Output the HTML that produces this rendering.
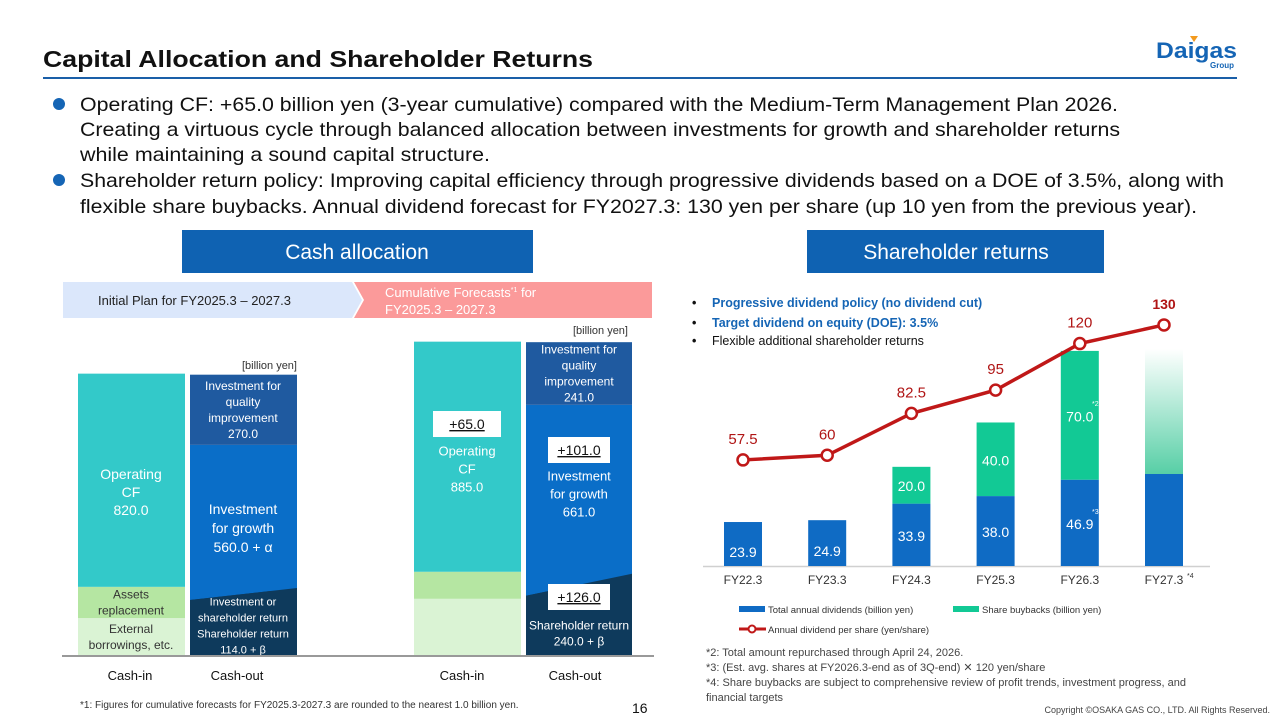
<!DOCTYPE html>
<html><head><meta charset="utf-8"><style>
html,body{margin:0;padding:0;background:#fff}
svg{display:block;font-family:"Liberation Sans",Arial,sans-serif}
</style></head><body>
<svg id="s" width="1280" height="720" viewBox="0 0 1280 720">
<defs>
<linearGradient id="fade" x1="0" y1="1" x2="0" y2="0"><stop offset="0" stop-color="#1fbf88" stop-opacity="0.75"/><stop offset="1" stop-color="#1fbf88" stop-opacity="0"/></linearGradient>
</defs>
<text x="43" y="67" font-size="23" font-weight="bold" fill="#111" textLength="550" lengthAdjust="spacingAndGlyphs">Capital Allocation and Shareholder Returns</text>
<line x1="43" y1="78" x2="1237" y2="78" stroke="#1a5fa8" stroke-width="2"/>
<g>
<polygon points="1190,36 1198,36 1194,42" fill="#f39a1e"/>
<text x="1156" y="58" font-size="22" font-weight="bold" fill="#1565b5" textLength="81" lengthAdjust="spacingAndGlyphs">Daigas</text>
<text x="1210" y="68" font-size="8" font-weight="bold" fill="#1565b5">Group</text>
</g>
<g font-size="19.5" fill="#111">
<circle cx="59" cy="104" r="6" fill="#1565b5"/>
<text x="80" y="111" textLength="1038" lengthAdjust="spacingAndGlyphs">Operating CF: +65.0 billion yen (3-year cumulative) compared with the Medium-Term Management Plan 2026.</text>
<text x="80" y="136" textLength="1040" lengthAdjust="spacingAndGlyphs">Creating a virtuous cycle through balanced allocation between investments for growth and shareholder returns</text>
<text x="80" y="161" textLength="410" lengthAdjust="spacingAndGlyphs">while maintaining a sound capital structure.</text>
<circle cx="59" cy="180" r="6" fill="#1565b5"/>
<text x="80" y="187" textLength="1144" lengthAdjust="spacingAndGlyphs">Shareholder return policy: Improving capital efficiency through progressive dividends based on a DOE of 3.5%, along with</text>
<text x="80" y="213" textLength="1117" lengthAdjust="spacingAndGlyphs">flexible share buybacks. Annual dividend forecast for FY2027.3: 130 yen per share (up 10 yen from the previous year).</text>
</g>
<rect x="182" y="230" width="351" height="43" fill="#0f62b2"/>
<text x="357" y="259" font-size="21" fill="#fff" text-anchor="middle">Cash allocation</text>
<rect x="807" y="230" width="297" height="43" fill="#0f62b2"/>
<text x="956" y="259" font-size="21" fill="#fff" text-anchor="middle">Shareholder returns</text>
<polygon points="63,282 352,282 362,300 352,318 63,318" fill="#dbe7fb"/>
<text x="98" y="305" font-size="13" fill="#222">Initial Plan for FY2025.3 – 2027.3</text>
<polygon points="354,282 652,282 652,318 354,318 364,300" fill="#fb9a9a"/>
<text x="385" y="297" font-size="13" fill="#fff">Cumulative Forecasts<tspan font-size="7" dy="-5">*1</tspan><tspan dy="5"> for</tspan></text>
<text x="385" y="314" font-size="13" fill="#fff">FY2025.3 – 2027.3</text>
<text x="297" y="369" font-size="11" fill="#333" text-anchor="end">[billion yen]</text>
<text x="628" y="334" font-size="11" fill="#333" text-anchor="end">[billion yen]</text>
<g id="left"></g>
<line x1="62" y1="656" x2="654" y2="656" stroke="#999" stroke-width="2"/>
<g font-size="13" fill="#111" text-anchor="middle">
<text x="130" y="680">Cash-in</text><text x="237" y="680">Cash-out</text>
<text x="462" y="680">Cash-in</text><text x="575" y="680">Cash-out</text>
</g>
<text x="80" y="708" font-size="10" fill="#333">*1: Figures for cumulative forecasts for FY2025.3-2027.3 are rounded to the nearest 1.0 billion yen.</text>
<text x="632" y="713" font-size="14" fill="#111">16</text>
<g id="right"></g>
<g font-size="12.5" font-weight="bold">
<text x="692" y="307" fill="#111">•</text><text x="712" y="307" fill="#1565b5">Progressive dividend policy (no dividend cut)</text>
<text x="692" y="327" fill="#111">•</text><text x="712" y="327" fill="#1565b5">Target dividend on equity (DOE): 3.5%</text>
<text x="692" y="345" fill="#111">•</text><text x="712" y="345" fill="#111" font-weight="normal">Flexible additional shareholder returns</text>
</g>
<g font-size="9.5" fill="#333">
<rect x="739" y="606" width="26" height="6" fill="#0f6bc4"/><text x="768" y="613">Total annual dividends (billion yen)</text>
<rect x="953" y="606" width="26" height="6" fill="#12c995"/><text x="982" y="613">Share buybacks (billion yen)</text>
<line x1="739" y1="629" x2="766" y2="629" stroke="#c01818" stroke-width="3"/><circle cx="752" cy="629" r="3.5" fill="#fff" stroke="#c01818" stroke-width="2"/><text x="768" y="633">Annual dividend per share (yen/share)</text>
</g>
<g font-size="11" fill="#444">
<text x="706" y="656">*2: Total amount repurchased through April 24, 2026.</text>
<text x="706" y="671">*3: (Est. avg. shares at FY2026.3-end as of 3Q-end) ✕ 120 yen/share</text>
<text x="706" y="686">*4:  Share buybacks are subject to comprehensive review of profit trends, investment progress, and</text>
<text x="706" y="701">financial targets</text>
</g>
<text x="1270" y="713" font-size="9" fill="#444" text-anchor="end">Copyright ©OSAKA GAS CO., LTD. All Rights Reserved.</text>
</svg>
<script>
const NS='http://www.w3.org/2000/svg';
// ---- Left chart data (billion yen) ----
const planIn=[820,120,146];          // operating CF, assets replacement, external borrowings
const planOut=[270,562,250];         // quality, growth, shareholder/other
const fcIn=[885,104,220];            // operating CF, assets replacement, external
const fcOut=[241,692,274];           // quality, growth, shareholder
const planOutLabels=['Investment for|quality|improvement|270.0','Investment|for growth|560.0 + α','Investment or|shareholder return|Shareholder return|114.0 + β'];
const fcOutLabels=['Investment for|quality|improvement|241.0','Investment|for growth|661.0','Shareholder return|240.0 + β'];
// ---- Right chart data ----
const years=['FY22.3','FY23.3','FY24.3','FY25.3','FY26.3','FY27.3'];
const dividends=[23.9,24.9,33.9,38.0,46.9,50];
const buybacks=[0,0,20.0,40.0,70.0,68];
const dps=[57.5,60,82.5,95,120,130];

function el(t,a,p){const e=document.createElementNS(NS,t);for(const k in a)e.setAttribute(k,a[k]);p.appendChild(e);return e;}
function txt(p,x,y,s,size,fill,weight){const t=el('text',{x:x,y:y,'font-size':size,fill:fill,'text-anchor':'middle'},p);if(weight)t.setAttribute('font-weight',weight);t.textContent=s;return t;}
function lines(p,x,yc,str,size,fill,lh){const ls=str.split('|');const y0=yc-(ls.length-1)*lh/2+size*0.35;ls.forEach((l,i)=>txt(p,x,y0+i*lh,l,size,fill));}

const L=document.getElementById('left');
const base=656, k=0.26;
const yL=v=>v*k;
function stack(x,w,vals,cols,names){let y=base;const out=[];for(let i=vals.length-1;i>=0;i--){const h=yL(vals[i]);y-=h;const r=el('rect',{x:x,y:y,width:w,height:h,fill:cols[i]},L);out[i]={y:y,h:h};}return out;}
const inCols=['#33c9c9','#b5e6a2','#daf3d4'];
const outCols=['#1f5aa0','#0a6ec8','#0e3a5c'];
// plan cash-in
let a=stack(78,107,planIn,inCols,['plan-operating-cf','plan-assets-replacement','plan-external-borrowings']);
lines(L,131,a[0].y+a[0].h/2+12,'Operating|CF|820.0',14,'#fff',18);
lines(L,131,a[1].y+a[1].h/2,'Assets|replacement',12,'#333',16);
lines(L,131,a[2].y+a[2].h/2,'External|borrowings, etc.',12,'#333',16);
let b=stack(190,107,planOut,outCols,['plan-quality-investment','plan-growth-investment','plan-shareholder-return']);
{const y=b[2].y;
el('polygon',{points:`190,${y-15} 297,${y-15} 297,${y-3} 190,${y+9}`,fill:'#0a6ec8'},L);
el('polygon',{points:`190,${y+9} 297,${y-3} 297,${y+25} 190,${y+25}`,fill:'#0e3a5c'},L);}
lines(L,243,b[0].y+b[0].h/2,planOutLabels[0],12,'#fff',16);
lines(L,243,b[1].y+b[1].h/2+10,planOutLabels[1],14,'#fff',19);
lines(L,243,b[2].y+b[2].h/2+2,planOutLabels[2],11,'#fff',16);
// forecast
let c=stack(414,107,fcIn,inCols,['fc-operating-cf','fc-assets-replacement','fc-external-borrowings']);
lines(L,467,c[0].y+c[0].h/2+12,'Operating|CF|885.0',13,'#fff',18);
let d=stack(526,106,fcOut,outCols,['fc-quality-investment','fc-growth-investment','fc-shareholder-return']);
{const y=d[2].y;
el('polygon',{points:`526,${y-20} 632,${y-20} 632,${y-11} 526,${y+11}`,fill:'#0a6ec8'},L);
el('polygon',{points:`526,${y+11} 632,${y-11} 632,${y+25} 526,${y+25}`,fill:'#0e3a5c'},L);}
lines(L,579,d[0].y+d[0].h/2,fcOutLabels[0],12,'#fff',16);
lines(L,579,d[1].y+d[1].h/2-1,fcOutLabels[1],13,'#fff',18);
lines(L,579,d[2].y+d[2].h/2+13,fcOutLabels[2],12,'#fff',16);
function badge(x,y,w,s,name){const g=el('g',{},L);el('rect',{x:x-w/2,y:y,width:w,height:26,fill:'#fff'},g);const t=txt(g,x,y+18,s,14,'#111');t.setAttribute('text-decoration','underline');}
badge(467,411,68,'+65.0','badge-plus-65');
badge(579,437,62,'+101.0','badge-plus-101');
badge(579,584,62,'+126.0','badge-plus-126');

// ---- Right chart ----
const R=document.getElementById('right');
const rb=566, rs=1.84, ds=1.862;
const xC=i=>743+i*84.2;
const yB=v=>rb-v*rs;
const yD=v=>567-v*ds;
el('line',{x1:703,y1:566.5,x2:1210,y2:566.5,stroke:'#d0d0d0','stroke-width':1.5},R);
years.forEach((yr,i)=>{
  const x=xC(i)-19,w=38;
  const r=el('rect',{x:x,y:yB(dividends[i]),width:w,height:rb-yB(dividends[i]),fill:'#0f6bc4'},R);
  
  
  if(buybacks[i]>0){
    const top=yB(dividends[i]+buybacks[i]);
    const g=el('rect',{x:x,y:top,width:w,height:yB(dividends[i])-top,fill:i===5?'url(#fade)':'#12c995'},R);
    
    
    if(i<5)txt(R,xC(i),(top+yB(dividends[i]))/2+6,buybacks[i].toFixed(1),14,'#fff');
  }
  if(i<5)txt(R,xC(i),i<2?yB(dividends[i])+(rb-yB(dividends[i]))/2+13:(yB(dividends[i])+rb)/2+6,dividends[i].toFixed(1),14,'#fff');
  txt(R,xC(i),584,yr,12,'#333');
});
el('text',{x:1187,y:578,'font-size':7,fill:'#333'},R).textContent='*4';
el('text',{x:1092,y:406,'font-size':7,fill:'#fff'},R).textContent='*2';
el('text',{x:1092,y:514,'font-size':7,fill:'#fff'},R).textContent='*3';
const pl=el('polyline',{points:dps.map((v,i)=>xC(i)+','+yD(v)).join(' '),fill:'none',stroke:'#c01818','stroke-width':3.5},R);


dps.forEach((v,i)=>{
  const c=el('circle',{cx:xC(i),cy:yD(v),r:5.5,fill:'#fff',stroke:'#c01818','stroke-width':2.5},R);
  
  
  txt(R,xC(i),yD(v)-16,String(v),i===5?14:15,'#b01515',i===5?'bold':null);
});
</script>
</body></html>
